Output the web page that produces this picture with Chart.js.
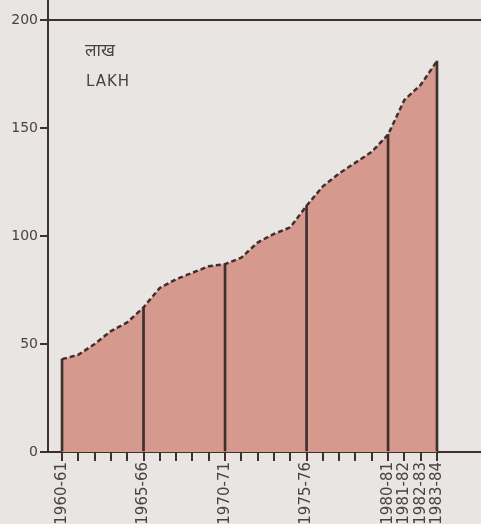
<!DOCTYPE html>
<html>
<head>
<meta charset="utf-8">
<script src="https://cdn.jsdelivr.net/npm/chart.js@4"></script>
<style>
  html, body { margin: 0; padding: 0; background: #e8e5e2; }
  #wrap { width: 481px; height: 524px; }
</style>
</head>
<body>
<div id="wrap"><canvas id="grafico" width="481" height="524"></canvas></div>
<script>
// Dados (lakh)
const anos = ['1960-61','1961-62','1962-63','1963-64','1964-65','1965-66','1966-67','1967-68',
  '1968-69','1969-70','1970-71','1971-72','1972-73','1973-74','1974-75','1975-76','1976-77',
  '1977-78','1978-79','1979-80','1980-81','1981-82','1982-83','1983-84'];
const valores = [43, 45, 50, 56, 60, 67, 76, 80, 83, 86, 87, 90, 97, 101, 104, 114, 123,
  129, 134, 139, 147, 163, 170, 181];
const anosMarcados = ['1960-61','1965-66','1970-71','1975-76','1980-81','1981-82','1982-83','1983-84'];
const anosComLinha = ['1960-61','1965-66','1970-71','1975-76','1980-81','1983-84'];
const ticksY = [0, 50, 100, 150, 200];

const escuro = '#3d302d';

const pontos = anos.map((a, i) => ({ x: i, y: valores[i] }));
const linhas = anos.map((a, i) => ({ x: i, y: anosComLinha.includes(a) ? valores[i] : null }));

const fundo = {
  id: 'fundo',
  beforeDraw(chart) {
    const c = chart.ctx;
    c.save();
    c.fillStyle = '#e8e5e2';
    c.fillRect(0, 0, chart.width, chart.height);
    c.restore();
  },
  afterDraw(chart) {
    const c = chart.ctx;
    c.save();
    c.fillStyle = '#4a4240';
    c.font = '17px "Noto Sans Devanagari", "Noto Sans", sans-serif';
    c.fillText('लाख', 85, 56);
    c.font = '15px "DejaVu Sans", sans-serif';
    if ('letterSpacing' in c) c.letterSpacing = '1px';
    c.fillText('LAKH', 86, 86);
    c.restore();
  }
};

const ctx = document.getElementById('grafico').getContext('2d');
new Chart(ctx, {
  data: {
    datasets: [
      {
        type: 'line',
        data: pontos,
        borderColor: escuro,
        borderWidth: 2.5,
        borderDash: [5, 3],
        backgroundColor: '#d6998e',
        fill: 'origin',
        tension: 0,
        pointRadius: 0,
        order: 2
      },
      {
        type: 'bar',
        data: linhas,
        backgroundColor: escuro,
        barThickness: 2,
        order: 1
      }
    ]
  },
  options: {
    responsive: false,
    animation: false,
    layout: { padding: 0 },
    plugins: { legend: { display: false }, tooltip: { enabled: false } },
    scales: {
      x: {
        type: 'linear',
        offset: false,
        min: -0.86,
        max: 25.7,
        afterFit(s) { s.height = 72; s.paddingLeft = 0; s.paddingRight = 0; },
        afterBuildTicks(s) { s.ticks = anos.map((a, i) => ({ value: i })); },
        border: { display: true, color: escuro, width: 2 },
        grid: { offset: false, drawOnChartArea: false, color: escuro, lineWidth: 2, tickLength: 9 },
        ticks: {
          autoSkip: false,
          minRotation: 90,
          maxRotation: 90,
          padding: 1,
          color: '#4a4240',
          font: { family: 'DejaVu Sans', size: 15 },
          callback: (v) => anosMarcados.includes(anos[v]) ? anos[v] : ''
        }
      },
      y: {
        min: 0,
        max: 209.3,
        afterFit(s) { s.width = 48; s.paddingTop = 0; s.paddingBottom = 0; },
        afterBuildTicks(s) { s.ticks = ticksY.map(v => ({ value: v })); },
        border: { display: true, color: escuro, width: 2 },
        grid: {
          color: (c) => c.tick && c.tick.value === 200 ? escuro : 'rgba(0,0,0,0)',
          tickColor: escuro,
          lineWidth: 2,
          tickLength: 8
        },
        ticks: {
          padding: 2,
          color: '#4a4240',
          font: { family: 'DejaVu Sans', size: 14 }
        }
      }
    }
  },
  plugins: [fundo]
});
</script>
</body>
</html>
